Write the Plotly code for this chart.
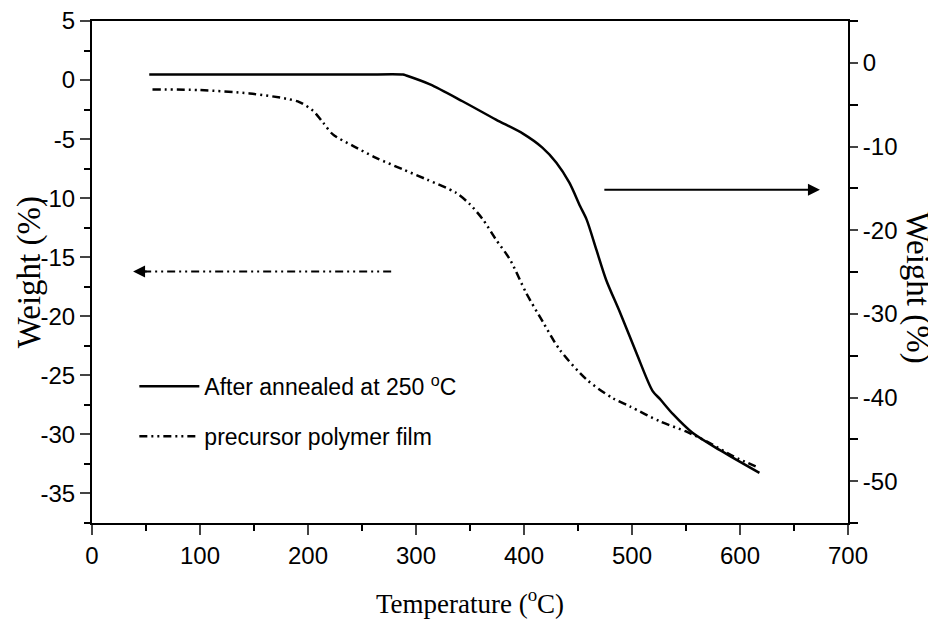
import plotly.graph_objects as go

# Data: solid curve (annealed, right axis), dashed curve (precursor, left axis)
annealed_T = [53, 150, 250, 288, 291, 313, 343, 374, 399, 417, 430, 442, 452, 458, 467,
              476, 489, 504, 519, 526, 538, 556, 581, 618]
annealed_W = [-1.4, -1.4, -1.4, -1.4, -1.52, -2.58, -4.59, -6.78, -8.46, -10.13, -11.93,
              -14.32, -17.15, -18.74, -22.33, -25.92, -29.87, -34.65, -39.2, -40.2, -42.0,
              -44.22, -46.26, -49.01]

precursor_T = [56, 100, 146, 180, 192, 205, 214, 223, 242, 263, 288, 310, 337, 350, 362,
               374, 387, 402, 418, 433, 458, 482, 498, 526, 550, 569, 594, 618]
precursor_W = [-0.79, -0.85, -1.13, -1.58, -1.86, -2.63, -3.61, -4.60, -5.59, -6.58, -7.57,
               -8.42, -9.54, -10.53, -11.81, -13.50, -15.19, -18.02, -20.56, -22.82,
               -25.36, -26.92, -27.63, -28.90, -29.75, -30.59, -31.86, -32.85]

x_ticks = [0, 100, 200, 300, 400, 500, 600, 700]
left_ticks = [5, 0, -5, -10, -15, -20, -25, -30, -35]
right_ticks = [0, -10, -20, -30, -40, -50]

DASH = "8px,4px,2px,4px,2px,4px"
TICKFONT = dict(family="Liberation Sans, Arial", size=24, color="black")
XTITLEFONT = dict(family="Liberation Serif, Times New Roman", size=27, color="black")
YTITLEFONT = dict(family="Liberation Serif, Times New Roman", size=33, color="black")

fig = go.Figure()
fig.add_trace(go.Scatter(x=annealed_T, y=annealed_W, yaxis="y2", mode="lines",
                         name="After annealed at 250 <sup>o</sup>C",
                         line=dict(color="black", width=2.5, shape="spline", smoothing=0.8),
                         legendgroup="a"))
fig.add_trace(go.Scatter(x=precursor_T, y=precursor_W, mode="lines",
                         name="precursor polymer film",
                         line=dict(color="black", width=2.5, dash=DASH, shape="spline",
                                   smoothing=0.8),
                         legendgroup="b"))

fig.update_layout(
    width=928, height=613,
    margin=dict(l=84, r=88, t=13, b=98),
    plot_bgcolor="white", paper_bgcolor="white",
    showlegend=True,
    legend=dict(x=0.056, y=0.315, xanchor="left", yanchor="top",
                font=dict(family="Liberation Sans, Arial", size=23, color="black"),
                bgcolor="rgba(0,0,0,0)", itemwidth=60, tracegroupgap=17),
    xaxis=dict(range=[0, 700], tickvals=x_ticks, ticktext=[str(v) for v in x_ticks],
               ticks="outside", ticklen=10, tickwidth=2, automargin=False,
               ticklabeloverflow="allow",
               showline=True, linewidth=2, linecolor="black", mirror=True,
               showgrid=False, zeroline=False, tickfont=TICKFONT,
               minor=dict(dtick=50, ticks="outside", ticklen=6, tickwidth=2, tickcolor="black"),
               title=dict(text="Temperature (<sup>o</sup>C)", font=XTITLEFONT, standoff=26)),
    yaxis=dict(range=[-37.5, 5], tickvals=left_ticks, ticktext=[str(v) for v in left_ticks],
               ticks="outside", ticklen=10, tickwidth=2, automargin=False,
               ticklabeloverflow="allow",
               showline=True, linewidth=2, linecolor="black",
               showgrid=False, zeroline=False, tickfont=TICKFONT,
               minor=dict(dtick=2.5, ticks="outside", ticklen=6, tickwidth=2, tickcolor="black")),
    yaxis2=dict(range=[-55, 5], tickvals=right_ticks, ticktext=[str(v) for v in right_ticks],
                overlaying="y", side="right", automargin=False,
                ticklabeloverflow="allow",
                ticks="outside", ticklen=8, tickwidth=2,
                showline=True, linewidth=2, linecolor="black",
                showgrid=False, zeroline=False, tickfont=TICKFONT,
                minor=dict(dtick=5, ticks="outside", ticklen=8, tickwidth=2, tickcolor="black")),
)

# Left axis title
fig.add_annotation(text="Weight (%)", xref="paper", yref="paper", x=-0.083, y=0.5,
                   xanchor="center", yanchor="middle",
                   textangle=-90, showarrow=False, font=YTITLEFONT)

# Right axis title (reads top to bottom)
fig.add_annotation(text="Weight (%)", xref="paper", yref="paper", x=1.092, y=0.47,
                   xanchor="center", yanchor="middle",
                   textangle=90, showarrow=False, font=YTITLEFONT)

# Left-pointing dashed arrow (precursor -> left axis)
fig.add_shape(type="line", xref="x", yref="y", x0=277, x1=46, y0=-16.2, y1=-16.2,
              line=dict(color="black", width=2, dash=DASH))
fig.add_annotation(x=38, y=-16.2, ax=52, ay=-16.2, xref="x", yref="y", axref="x", ayref="y",
                   text="", showarrow=True, arrowhead=2, arrowsize=1.2, arrowwidth=2,
                   arrowcolor="black")

# Right-pointing solid arrow (annealed -> right axis)
fig.add_annotation(x=674, y=-15.16, ax=473, ay=-15.16, xref="x", yref="y2", axref="x",
                   ayref="y2", text="", showarrow=True, arrowhead=2, arrowsize=1.2,
                   arrowwidth=2, arrowcolor="black")

fig.write_html("out.html")
